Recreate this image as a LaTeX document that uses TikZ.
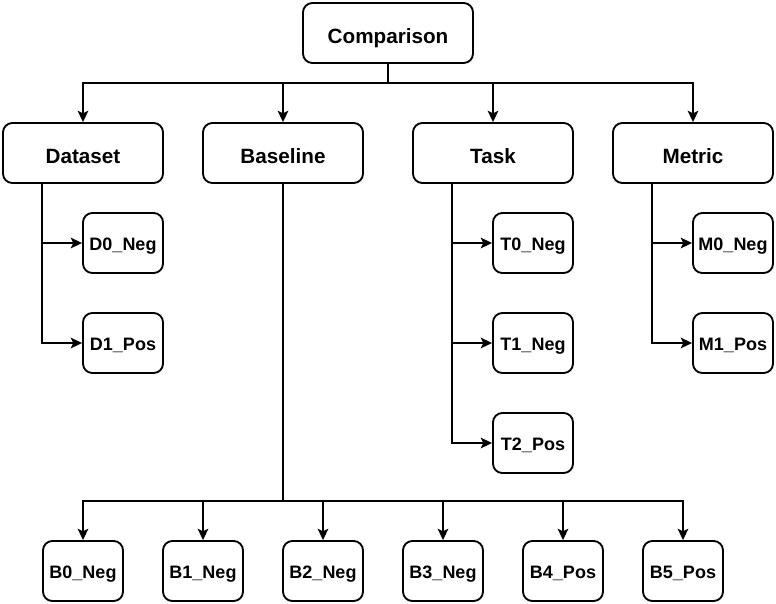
\documentclass[tikz,border=0pt]{standalone}
\usepackage{fontspec}
\setmainfont{Liberation Sans}
\usetikzlibrary{arrows.meta}
\tikzset{
  box/.style={draw, line width=1.4pt, rounded corners=7pt, minimum width=120pt, minimum height=45pt, inner sep=0pt, text height=15.7pt, text depth=0pt, font=\bfseries\fontsize{15.5}{18}\selectfont},
  leaf/.style={box, minimum width=60pt, text height=11.4pt, font=\bfseries\fontsize{13.5}{16}\selectfont},
  arr/.style={-{Stealth[length=8.5pt,width=8pt,inset=2pt]}, line width=1.4pt}
}
\begin{document}
\begin{tikzpicture}[x=0.75pt, y=-0.75pt]
            \useasboundingbox (0,0) rectangle (776,604);

            \node[box, minimum width=127.5pt] (comparison) at (388,33) {Comparison};

            \node[box] (dataset) at (83,153) {Dataset};
            \node[box] (baseline) at (283,153) {Baseline};
            \node[box] (task) at (493,153) {Task};
            \node[box] (metric) at (693,153) {Metric};

            \node[leaf] (d0) at (123,243) {D0\_Neg};
            \node[leaf] (d1) at (123,343) {D1\_Pos};
            \node[leaf] (t0) at (533,243) {T0\_Neg};
            \node[leaf] (t1) at (533,343) {T1\_Neg};
            \node[leaf] (t2) at (533,443) {T2\_Pos};
            \node[leaf] (m0) at (733,243) {M0\_Neg};
            \node[leaf] (m1) at (733,343) {M1\_Pos};

            \foreach \i/\x/\t in {0/83/Neg,1/203/Neg,2/323/Neg,3/443/Neg,4/563/Pos,5/683/Pos}
                \node[leaf] (b\i) at (\x,571) {B\i\_\t};

            \coordinate (cbar) at (388,83);
            \coordinate (bbar) at (283,501);

            \foreach \n in {dataset,baseline,task,metric}
                \draw[arr] (comparison.south) -- (cbar) -| (\n.north);

            \foreach \n in {d0,d1} \draw[arr] ([xshift=30pt]dataset.south west) |- (\n.west);
            \foreach \n in {t0,t1,t2} \draw[arr] ([xshift=30pt]task.south west) |- (\n.west);
            \foreach \n in {m0,m1} \draw[arr] ([xshift=30pt]metric.south west) |- (\n.west);

            \foreach \i in {0,...,5} \draw[arr] (baseline.south) -- (bbar) -| (b\i.north);
        \end{tikzpicture}
\end{document}
